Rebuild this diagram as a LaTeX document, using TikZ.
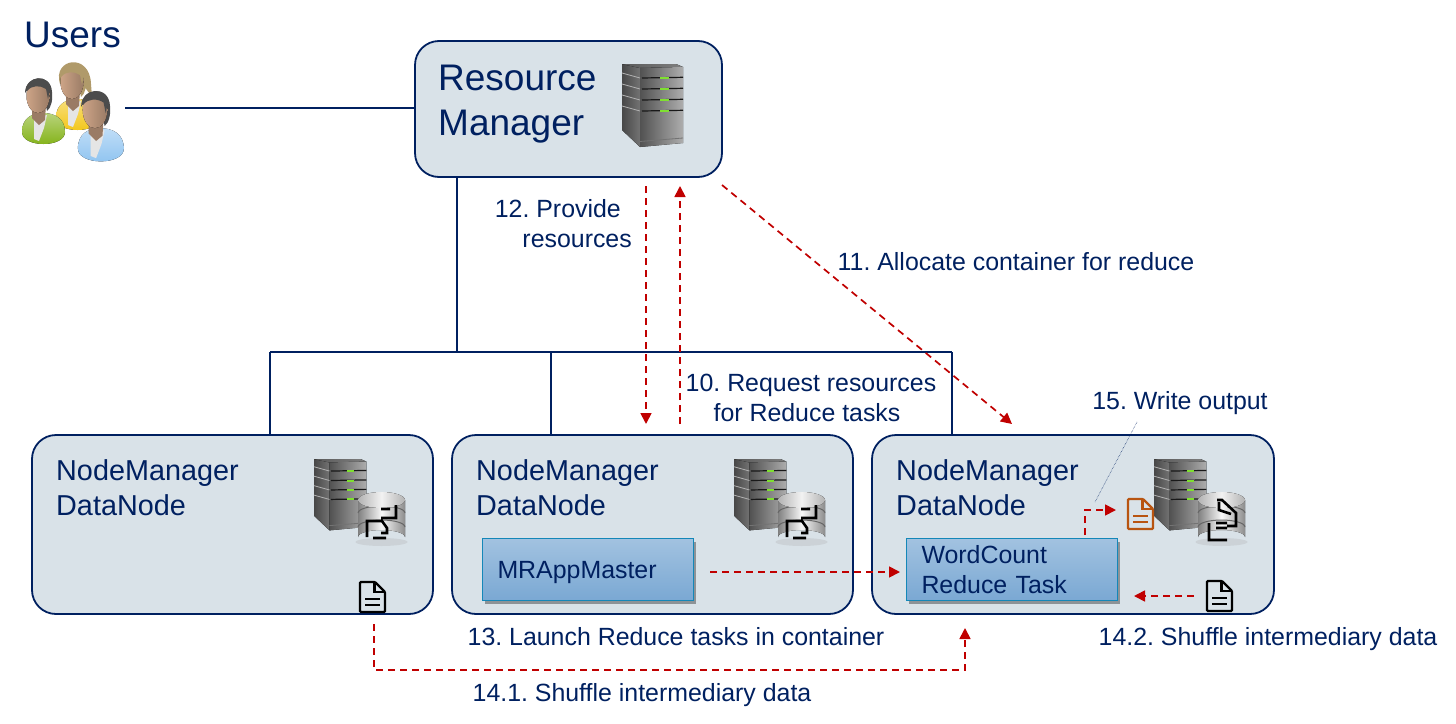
\documentclass[tikz,border=0pt]{standalone}
\usepackage{fontspec}
\setmainfont{Liberation Sans}
\frenchspacing
\usetikzlibrary{arrows.meta, calc, positioning, shadows}

\definecolor{navy}{HTML}{002060}
\definecolor{boxfill}{HTML}{D9E2E8}
\definecolor{flowred}{HTML}{C00000}
\definecolor{taskline}{HTML}{1487B8}
\definecolor{taskblue}{HTML}{7AA8D3}
\definecolor{docorange}{HTML}{B85410}
\definecolor{skin}{HTML}{CDA487}
\definecolor{led}{HTML}{7FE030}
\definecolor{shirtgreen}{HTML}{7FB010}
\definecolor{shirtyellow}{HTML}{F2C410}
\definecolor{shirtblue}{HTML}{8CC2F0}
\definecolor{hairtan}{HTML}{B09A6A}

\tikzset{
 box/.style={draw=navy, line width=1.8pt, fill=boxfill, rounded corners=24pt, anchor=north west, inner sep=0, outer sep=0},
 head/.style={text=navy, inner sep=0, anchor=north west, align=left},
 nmtext/.style={head, font=\fontsize{28.8}{35}\selectfont},
 lbl/.style={text=navy, inner sep=0, font=\fontsize{24.9}{30}\selectfont, align=center},
 task/.style={draw=taskline, line width=1pt, top color=taskblue!70!white, bottom color=taskblue,
  text=navy, font=\fontsize{24.9}{30}\selectfont, text width=181pt, inner xsep=15pt, inner ysep=0,
  minimum height=62pt, align=left, drop shadow={shadow xshift=2pt, shadow yshift=-3pt, opacity=.35, fill=black}},
 link/.style={draw=navy, line width=1.6pt},
 flow/.style={draw=flowred, line width=1.7pt, dash pattern=on 7pt off 5pt, -{Triangle[length=11pt,width=11pt]}},
 pics/server/.style={code={
  \fill [left color=black!72, right color=black!55] (0,0) -- (18,4) -- (18,83) -- (0,66) -- cycle;
  \fill [left color=black!65, right color=black!50] (0,0) -- (54,0) -- (61,3) -- (18,4) -- cycle;
  \fill [left color=black!68, right color=black!32] (18,4) -- (61,3) -- (61,79) -- (18,83) -- cycle;
  \foreach \y in {14,25,36,47} {
   \draw [black!90, line width=1.2pt] (20,\y) -- (61,\y-.7);
   \draw [black!30, line width=.8pt] (0,\y-5) -- (18,\y);
   \draw [led, line width=2pt] (38,\y) -- (47,\y);
  }
  \draw [black!55, line width=.8pt] (18,77.5) -- (61,74);
 }},
 pics/database/.style={code={
  \fill [black!35, opacity=.25] (23.5,50) ellipse [x radius=26, y radius=4];
  \fill [left color=black!50, right color=black!45, middle color=black!3]
   (0,8) -- (0,45) arc [start angle=180, end angle=360, x radius=23.5, y radius=7] -- (47,8) -- cycle;
  \draw [black!60, line width=1pt] (0,21) arc [start angle=180, end angle=360, x radius=23.5, y radius=7];
  \draw [black!60, line width=1pt] (0,35) arc [start angle=180, end angle=360, x radius=23.5, y radius=7];
  \fill [left color=black!30, right color=black!30, middle color=black!5] (23.5,8) ellipse [x radius=23.5, y radius=8];
 }},
 pics/glyphone/.style={code={
  \draw [black, line width=2.6pt] (23,17) -- (32,17) (38,13) -- (38,26) -- (23,26)
   (9,45) -- (9,29) -- (24,29) -- (29,36) -- (29,41) -- (23,41) (15,46) -- (28,46);
 }},
 pics/glyphtwo/.style={code={
  \draw [black, line width=2.6pt] (19,8) -- (24,8) -- (38,21) -- (38,34) -- (29,34) (21,10) -- (21,18) -- (33,22)
   (18,31) -- (29,31) (18,36) -- (29,36) (11,31) -- (11,48) -- (29,48);
 }},
 pics/docicon/.style={code={
  \draw [#1, line width=2.3pt, rounded corners=1pt] (0,0) -- (15,0) -- (25,10) -- (25,30) -- (0,30) -- cycle;
  \draw [#1, line width=2.3pt] (14.5,0) -- (14.5,10) -- (25,10);
  \draw [#1, line width=2.3pt] (5,17) -- (20,17) (5,23) -- (20,23);
 }},
 pics/person/.style n args={3}{code={
  \fill [top color=#1!55!white, bottom color=#1] (-16,36) .. controls (-16,22) and (-6,17) .. (5,17)
   .. controls (16,17) and (27,22) .. (27,36) .. controls (27,52) and (-16,52) .. (-16,36) -- cycle;
  \fill [white!90!black] (-4,19) -- (9,19) -- (6,32) -- (1,45) -- (-4,43) -- cycle;
  \fill [#2!75!black] (-6,8) -- (8,8) -- (7,24) -- (1,29) -- (-6,22) -- cycle;
  \fill [#3] (-13,-3) .. controls (-13,-21) and (13,-24) .. (14,-4) .. controls (15,4) and (13,12) .. (9,15) -- (5,-6) -- (-10,-7) -- cycle;
  \fill [left color=#2, right color=#2!75!black] (0,0) ellipse [x radius=11.5, y radius=17];
  \fill [#3] (-12,-5) .. controls (-12,-21) and (12,-22) .. (12,-7) -- (10,3) -- (8,-7) .. controls (2,-11) and (-6,-11) .. (-11,-5) -- cycle;
 }}
}

\begin{document}
\begin{tikzpicture}[x=1pt, y=-1pt]
 \useasboundingbox (0,0) rectangle (1456,723);

 % users
 \node [head, font=\fontsize{37}{45}\selectfont] (U) at (24,22) {Users};
 \fill [hairtan] (60,84) .. controls (52,58) and (90,52) .. (91,84) -- (92,97) -- (84,86) -- cycle;
 \pic at (72,82) {person={shirtyellow}{skin}{hairtan}};
 \pic at (38,96) {person={shirtgreen}{skin}{black!70}};
 \pic [scale=1.07] at (95,110) {person={shirtblue}{skin}{black!70}};

 % boxes
 \node [box, minimum width=307pt, minimum height=136pt] (RM) at (415,41) {};
 \node [box, minimum width=401pt, minimum height=179pt] (NMa) at (32,435) {};
 \node [box, minimum width=401pt, minimum height=179pt, right=19pt of NMa] (NMb) {};
 \node [box, minimum width=402pt, minimum height=179pt, right=19pt of NMb] (NMc) {};

 \node [head, font=\fontsize{37}{45}\selectfont, below right=24pt and 23pt of RM.north west] (RMT) {Resource\\Manager};
 \foreach \n in {NMa,NMb,NMc}
  \node [nmtext, below right=24pt and 24pt of \n.north west] (\n T) {NodeManager\\DataNode};

 \node [task, anchor=north west] (MR) at (482,538) {MRAppMaster\rule{0pt}{24pt}};
 \node [task, anchor=north west] (RT) at (906,538) {WordCount\\Reduce Task};

 % icons
 \pic at (622,64) {server};
 \foreach \x in {314,734,1154} {
  \pic [scale=.86] at (\x,459) {server};
 }
 \foreach \x in {358,778} {
  \pic at (\x,492) {database};
  \pic at (\x,492) {glyphone};
 }
 \pic at (1198,492) {database};
 \pic at (1198,492) {glyphtwo};
 \pic at (360,582) {docicon=black};
 \pic at (1207,581) {docicon=black};
 \pic at (1128,499) {docicon=docorange};

 % cluster links
 \coordinate (UE) at (125,108);
 \coordinate (J) at (457,352);
 \coordinate (Ja) at (270,352);
 \coordinate (Jb) at (551,352);
 \coordinate (Jc) at (952,352);
 \draw [link] (UE) -- (UE -| RM.west);
 \draw [link] (J |- RM.south) -- (J);
 \draw [link] (Ja) -- (Jc);
 \foreach \j/\n in {Ja/NMa, Jb/NMb, Jc/NMc}
  \draw [link] (\j) -- (\j |- \n.north);

 % flows
 \coordinate (Pa) at (646,186);
 \coordinate (Pb) at (646,424);
 \coordinate (Ra) at (680,424);
 \coordinate (Rb) at (680,186);
 \coordinate (Aa) at (722,185);
 \coordinate (Ab) at (1012,424);
 \coordinate (La) at (710,572);
 \coordinate (Lb) at (900,572);
 \coordinate (Sa) at (1194,596);
 \coordinate (Sb) at (1134,596);
 \coordinate (Wa) at (1085,535);
 \coordinate (Wb) at (1116,510);
 \coordinate (Da) at (374,624);
 \coordinate (Db) at (965,628);
 \draw [flow] (Pa) -- (Pb);
 \draw [flow] (Ra) -- (Rb);
 \draw [flow] (Aa) -- (Ab);
 \draw [flow] (La) -- (Lb);
 \draw [flow] (Sa) -- (Sb);
 \draw [flow] (Wa) |- (Wb);
 \draw [flow] (Da) -- (374,670) -- (965,670) -- (Db);

 % labels
 \coordinate (Oa) at (1137,422);
 \coordinate (Ob) at (1095,502);
 \draw [navy, line width=.5pt, densely dotted] (Oa) -- (Ob);
 \node [lbl, align=right, anchor=north east] (L12) at (632,199) {12. Provide\hspace*{11pt}\\resources};
 \node [lbl] (L11) at (1016,262) {11. Allocate container for reduce};
 \node [lbl] (L10) at (811,398) {10. Request resources\\for Reduce tasks\hspace*{8pt}};
 \node [lbl] (L15) at (1180,403) {15. Write output};
 \node [lbl] (L13) at (676,637) {13. Launch Reduce tasks in container};
 \node [lbl] (L142) at (1268,639) {14.2. Shuffle intermediary data};
 \node [lbl] (L141) at (642,695) {14.1. Shuffle intermediary data};
\end{tikzpicture}
\end{document}
